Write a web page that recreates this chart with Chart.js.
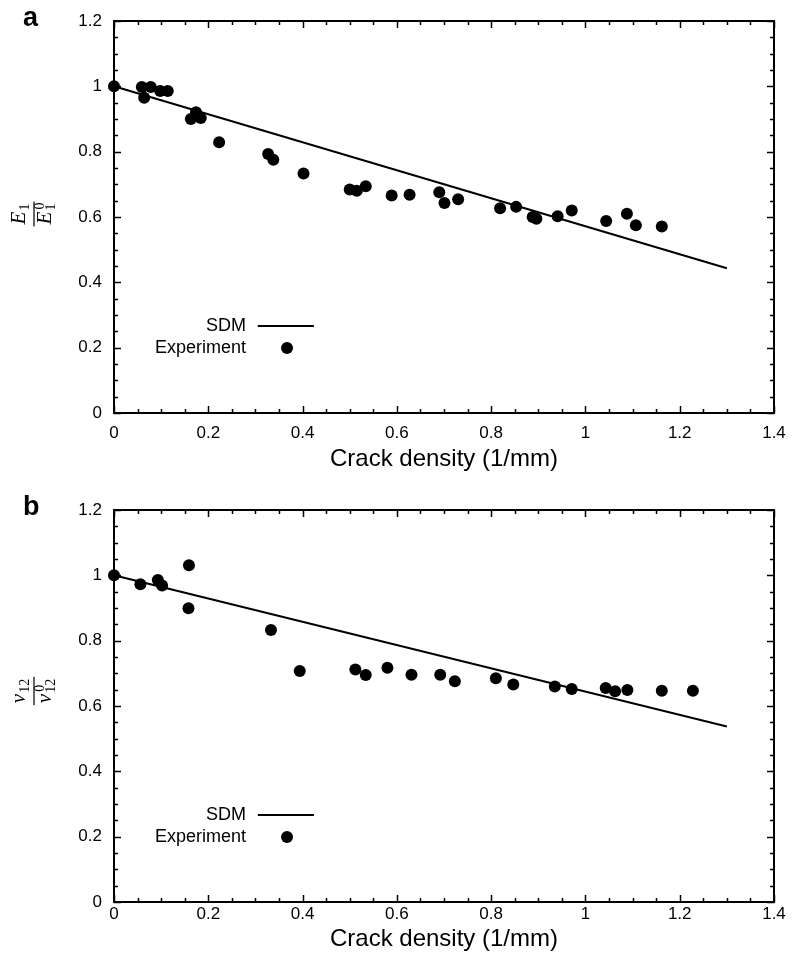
<!DOCTYPE html>
<html>
<head>
<meta charset="utf-8">
<script src="https://cdn.jsdelivr.net/npm/chart.js@4.4.1/dist/chart.umd.min.js"></script>
<style>
  html, body { margin: 0; padding: 0; background: #fff; }
  .panel { position: absolute; left: 0; width: 792px; height: 481px; }
  canvas { display: block; }
</style>
</head>
<body>
<div class="panel" style="top:0"><canvas id="c1" width="792" height="481"></canvas></div>
<div class="panel" style="top:481px"><canvas id="c2" width="792" height="481"></canvas></div>
<script>
// ---------- data ----------
const xTickValues = [0, 0.2, 0.4, 0.6, 0.8, 1.0, 1.2, 1.4];
const xTickLabels = ['0', '0.2', '0.4', '0.6', '0.8', '1', '1.2', '1.4'];
const yTickValues = [0, 0.2, 0.4, 0.6, 0.8, 1.0, 1.2];
const yTickLabels = ['0', '0.2', '0.4', '0.6', '0.8', '1', '1.2'];
const xAxisTitle = 'Crack density (1/mm)';
const seriesNames = ['SDM', 'Experiment'];
const panelLetters = ['a', 'b'];

// panel a : E1 / E1^0
const expAX = [0, 0.059, 0.064, 0.078, 0.098, 0.114, 0.163, 0.174, 0.184, 0.223, 0.327, 0.338, 0.402, 0.500, 0.515, 0.534, 0.589, 0.627, 0.690, 0.701, 0.730, 0.819, 0.853, 0.888, 0.896, 0.941, 0.971, 1.044, 1.088, 1.107, 1.162];
const expAY = [1.0, 0.998, 0.965, 0.998, 0.986, 0.986, 0.900, 0.921, 0.903, 0.829, 0.793, 0.775, 0.733, 0.684, 0.680, 0.694, 0.666, 0.668, 0.676, 0.643, 0.654, 0.627, 0.631, 0.600, 0.595, 0.602, 0.620, 0.588, 0.610, 0.575, 0.571];
const sdmAX = [0, 1.3];
const sdmAY = [1.0, 0.443];

// panel b : nu12 / nu12^0
const expBX = [0, 0.056, 0.093, 0.102, 0.159, 0.158, 0.333, 0.394, 0.512, 0.534, 0.580, 0.631, 0.692, 0.723, 0.810, 0.847, 0.935, 0.971, 1.043, 1.063, 1.089, 1.162, 1.228];
const expBY = [1.0, 0.973, 0.986, 0.969, 1.031, 0.899, 0.833, 0.707, 0.712, 0.695, 0.717, 0.696, 0.696, 0.676, 0.685, 0.666, 0.660, 0.652, 0.655, 0.645, 0.649, 0.647, 0.647];
const sdmBX = [0, 1.3];
const sdmBY = [1.0, 0.537];

// ---------- helpers ----------
const SANS = '"Liberation Sans", Arial, Helvetica, sans-serif';
const SERIF = '"Liberation Serif", "Times New Roman", serif';
const pts = (xs, ys) => xs.map((x, i) => ({x: x, y: ys[i]}));

function drawFrac(ctx, cx, cy, num, den) {
  ctx.save();
  ctx.translate(cx, cy);
  ctx.rotate(-Math.PI / 2);
  ctx.fillStyle = '#000';
  ctx.textAlign = 'left';
  ctx.textBaseline = 'alphabetic';
  const mainF = 'italic 21px ' + SERIF;
  const scrF = '14px ' + SERIF;
  ctx.font = mainF;
  const wn = ctx.measureText(num.main).width;
  const wd = ctx.measureText(den.main).width;
  ctx.font = scrF;
  const wns = ctx.measureText(num.sub).width;
  const wds = Math.max(ctx.measureText(den.sub).width, ctx.measureText(den.sup).width);
  const numW = wn + 1 + wns, denW = wd + 1 + wds;
  const barW = Math.max(numW, denW) + 4;
  ctx.fillRect(-barW / 2, -0.6, barW, 1.2);
  let x0 = -numW / 2;
  ctx.font = mainF; ctx.fillText(num.main, x0, -9);
  ctx.font = scrF; ctx.fillText(num.sub, x0 + wn + 1, -5);
  x0 = -denW / 2;
  ctx.font = mainF; ctx.fillText(den.main, x0, 17);
  ctx.font = scrF;
  ctx.fillText(den.sub, x0 + wd + 1, 21);
  ctx.fillText(den.sup, x0 + wd + 2, 10);
  ctx.restore();
}

const framePlugin = {
  id: 'frameTicks',
  beforeDatasetsDraw(chart) {
    const {ctx, chartArea: a, scales: {x, y}} = chart;
    ctx.save();
    ctx.strokeStyle = '#000';
    ctx.lineWidth = 1.5;
    ctx.beginPath();
    for (let k = 0; k <= 28; k++) {
      const v = k * 0.05;
      const len = (k % 4 === 0) ? 7 : 4;
      const px = Math.round(x.getPixelForValue(v)) + 0.5;
      ctx.moveTo(px, a.bottom); ctx.lineTo(px, a.bottom - len);
      ctx.moveTo(px, a.top); ctx.lineTo(px, a.top + len);
    }
    for (let k = 0; k <= 24; k++) {
      const v = k * 0.05;
      const len = (k % 4 === 0) ? 7 : 4;
      const py = Math.round(y.getPixelForValue(v)) + 0.5;
      ctx.moveTo(a.left, py); ctx.lineTo(a.left + len, py);
      ctx.moveTo(a.right, py); ctx.lineTo(a.right - len, py);
    }
    ctx.stroke();
    ctx.lineWidth = 2;
    ctx.strokeRect(a.left, a.top, a.right - a.left, a.bottom - a.top);
    ctx.restore();
  },
  afterDraw(chart) {
    const o = chart.options.plugins.frameTicks;
    const {ctx, scales: {x, y}} = chart;
    ctx.save();
    // panel letter
    ctx.fillStyle = '#000';
    ctx.font = 'bold 27px ' + SANS;
    ctx.textAlign = 'left';
    ctx.textBaseline = 'alphabetic';
    ctx.fillText(o.letter, 23, o.letterY);
    // y-axis fraction label
    drawFrac(ctx, 34, o.fracY, o.num, o.den);
    // legend
    const ds = chart.data.datasets;
    const lineDs = ds.find(d => d.label === seriesNames[0]);
    const ptDs = ds.find(d => d.label === seriesNames[1]);
    const yl1 = y.getPixelForValue(0.266);
    const yl2 = y.getPixelForValue(0.199);
    const xTextEnd = x.getPixelForValue(0.28);
    ctx.font = '18px ' + SANS;
    ctx.textAlign = 'right';
    ctx.textBaseline = 'middle';
    ctx.fillText(lineDs.label, xTextEnd, yl1);
    ctx.fillText(ptDs.label, xTextEnd, yl2);
    ctx.strokeStyle = lineDs.borderColor;
    ctx.lineWidth = lineDs.borderWidth;
    ctx.beginPath();
    ctx.moveTo(x.getPixelForValue(0.305), yl1);
    ctx.lineTo(x.getPixelForValue(0.424), yl1);
    ctx.stroke();
    ctx.fillStyle = ptDs.backgroundColor;
    ctx.beginPath();
    ctx.arc(x.getPixelForValue(0.367), yl2, ptDs.pointRadius, 0, Math.PI * 2);
    ctx.fill();
    ctx.restore();
  }
};

function makeChart(id, cfg) {
  return new Chart(document.getElementById(id), {
    type: 'scatter',
    data: {
      datasets: [
        { label: seriesNames[0], type: 'line', data: cfg.sdm, borderColor: '#000', borderWidth: 2,
          pointRadius: 0, pointHoverRadius: 0, fill: false, tension: 0, order: 1, clip: false },
        { label: seriesNames[1], data: cfg.exp, backgroundColor: '#000', borderColor: '#000', borderWidth: 0,
          pointRadius: 6, pointHoverRadius: 6, order: 0, clip: false }
      ]
    },
    options: {
      responsive: false,
      animation: false,
      events: [],
      layout: { padding: { top: cfg.padTop, right: 18, left: 0, bottom: 0 } },
      plugins: {
        legend: { display: false },
        tooltip: { enabled: false },
        frameTicks: { letter: cfg.letter, letterY: cfg.letterY, fracY: cfg.fracY, num: cfg.num, den: cfg.den }
      },
      scales: {
        x: {
          type: 'linear', min: 0, max: 1.4,
          grid: { display: false, drawTicks: false },
          border: { display: false },
          afterBuildTicks: s => { s.ticks = xTickValues.map(v => ({value: v})); },
          afterFit: s => { s.height = cfg.xHeight; s.paddingLeft = 0; s.paddingRight = 0; },
          ticks: { autoSkip: false, maxRotation: 0, padding: cfg.xTickPad, color: '#000',
                   font: { size: 17, family: SANS },
                   callback: (v, i) => xTickLabels[i] },
          title: { display: true, text: xAxisTitle, color: '#000',
                   font: { size: 24, family: SANS }, padding: { top: 0, bottom: cfg.titlePadB } }
        },
        y: {
          type: 'linear', min: 0, max: 1.2,
          grid: { display: false, drawTicks: false },
          border: { display: false },
          afterBuildTicks: s => { s.ticks = yTickValues.map(v => ({value: v})); },
          afterFit: s => { s.width = 114; s.paddingTop = 0; s.paddingBottom = 0; },
          ticks: { autoSkip: false, padding: 12, color: '#000',
                   font: { size: 17, family: SANS },
                   callback: (v, i) => yTickLabels[i] }
        }
      }
    },
    plugins: [framePlugin]
  });
}

makeChart('c1', {
  sdm: pts(sdmAX, sdmAY), exp: pts(expAX, expAY),
  padTop: 21, xHeight: 68, xTickPad: 10, titlePadB: 7,
  letter: panelLetters[0], letterY: 26, fracY: 214,
  num: {main: 'E', sub: '1'}, den: {main: 'E', sub: '1', sup: '0'}
});
makeChart('c2', {
  sdm: pts(sdmBX, sdmBY), exp: pts(expBX, expBY),
  padTop: 29, xHeight: 60, xTickPad: 2, titlePadB: 8,
  letter: panelLetters[1], letterY: 34, fracY: 210,
  num: {main: 'ν', sub: '12'}, den: {main: 'ν', sub: '12', sup: '0'}
});
</script>
</body>
</html>
